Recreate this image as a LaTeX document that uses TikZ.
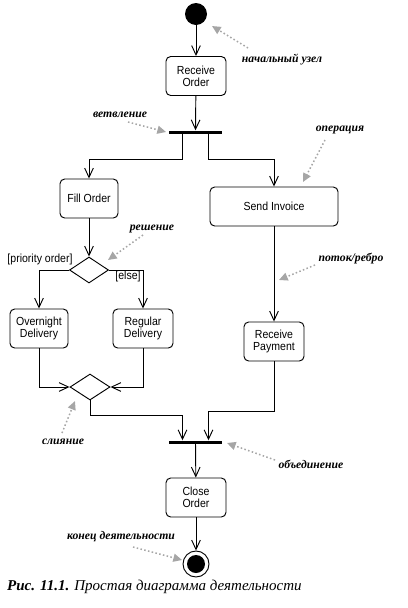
\documentclass[tikz,border=0pt]{standalone}
\usepackage{fontspec}
\setmainfont{Liberation Serif}
\setsansfont{Liberation Sans}[FakeStretch=0.9]
\usetikzlibrary{arrows.meta}
\usetikzlibrary{shapes.geometric}
\usetikzlibrary{calc}

\begin{document}
\begin{tikzpicture}[x=0.03cm,y=-0.03cm,
    action/.style={draw,line width=0.8pt,rounded corners=4pt,inner sep=0pt,
      minimum width=1.8cm,minimum height=1.17cm,align=center,
      font=\sffamily\fontsize{10}{10.5}\selectfont},
    choice/.style={draw,line width=0.8pt,diamond,inner sep=0pt,
      minimum width=1.17cm,minimum height=0.78cm},
    bar/.style={fill=black,inner sep=0pt,minimum width=1.58cm,minimum height=0.09cm},
    flow/.style={line width=0.8pt,-{Straight Barb[length=2.8mm,width=2.6mm]}},
    guard/.style={font=\sffamily\fontsize{10}{11}\selectfont,inner sep=0pt},
    note/.style={font=\bfseries\itshape\fontsize{10}{11}\selectfont,inner sep=0pt},
    hint/.style={gray!70,line width=1.3pt,dotted,-{Triangle[length=2.6mm,width=2.4mm]}}]

                    \useasboundingbox (0,0) rectangle (407,608);

                    % activity nodes
                    \node[circle,fill=black,inner sep=0pt,minimum size=0.66cm] (start) at (196,14) {};
                    \node[action] (recv) at (196,76) {Receive\\Order};
                    \node[bar] (fork) at (195.5,132) {};
                    \node[action,minimum width=1.74cm] (fill) at (89,198.5) {Fill Order};
                    \node[action,minimum width=3.84cm] (send) at (274,206.5) {Send Invoice};
                    \node[choice] (dec) at (89,270) {};
                    \node[action,minimum width=1.74cm] (over) at (39,328.5) {Overnight\\Delivery};
                    \node[action] (reg) at (143,328.5) {Regular\\Delivery};
                    \node[action] (pay) at (274,341.5) {Receive\\Payment};
                    \node[choice,minimum width=1.2cm] (merge) at (90,387) {};
                    \node[bar] (join) at (195.5,442) {};
                    \node[action] (close) at (196,497.5) {Close\\Order};
                    \node[circle,draw,line width=0.8pt,fill=white,inner sep=0pt,minimum size=0.78cm] (final) at (196,564) {};
                    \node[circle,fill=black,inner sep=0pt,minimum size=0.54cm] (finaldot) at (final) {};

                    % guards
                    \node[guard] (prio) at (40,259) {[priority order]};
                    \node[guard] (else) at (128,276) {[else]};

                    % flows
                    \draw[flow] (start) -- (recv);
                    \draw[flow] (recv) -- (fork);
                    \draw[flow] ($(fork.south)+(-13,0)$) -- ++(0,26) -| (fill.north);
                    \draw[flow] ($(fork.south)+(13,0)$) -- ++(0,26) -| (send.north);
                    \draw[flow] (fill) -- (dec);
                    \draw[flow] (dec.west) -| (over.north);
                    \draw[flow] (dec.east) -| (reg.north);
                    \draw[flow] (send) -- (pay);
                    \draw[flow] (over.south) |- (merge.west);
                    \draw[flow] (reg.south) |- (merge.east);
                    \draw[flow] (merge.south) -- ++(0,15) -| ($(join.north)+(-13,0)$);
                    \draw[flow] (pay.south) -- ++(0,50) -| ($(join.north)+(13,0)$);
                    \draw[flow] (join) -- (close);
                    \draw[flow] (close) -- (final);

                    % notes
                    \node[note] (nstart) at (282,60) {начальный узел};
                    \node[note] (nfork) at (120,115) {ветвление};
                    \node[note] (nact) at (340,130) {операция};
                    \node[note] (ndec) at (152,229) {решение};
                    \node[note] (nedge) at (351,259) {поток/ребро};
                    \node[note] (nmerge) at (63,442) {слияние};
                    \node[note] (njoin) at (311,464) {объединение};
                    \node[note] (nend) at (121,537) {конец деятельности};

                    \coordinate (a1) at (248,48);  \coordinate (b1) at (212,26);
                    \coordinate (a2) at (128,122); \coordinate (b2) at (166,132);
                    \coordinate (a3) at (325,140); \coordinate (b3) at (303,182);
                    \coordinate (a4) at (143,235); \coordinate (b4) at (108,260);
                    \coordinate (a5) at (315,265); \coordinate (b5) at (279,280);
                    \coordinate (a6) at (62,433);  \coordinate (b6) at (75,401);
                    \coordinate (a7) at (275,460); \coordinate (b7) at (227,443);
                    \coordinate (a8) at (133,547); \coordinate (b8) at (182,560);
                    \foreach \i in {1,...,8}
                        \draw[hint] (a\i) -- (b\i);

                    % caption
                    \node[anchor=base west,inner sep=0pt,font=\itshape\fontsize{12.8}{14}\selectfont] (cap) at (7,590)
                        {\textbf{Рис. 11.1.} Простая диаграмма деятельности};
\end{tikzpicture}
\end{document}
